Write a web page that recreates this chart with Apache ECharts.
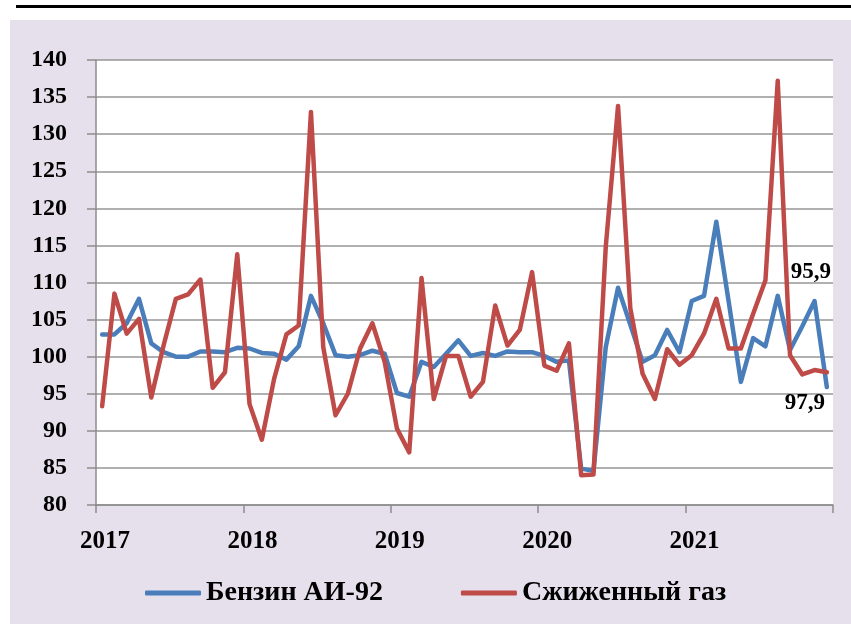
<!DOCTYPE html>
<html>
<head>
<meta charset="utf-8">
<script src="https://cdn.jsdelivr.net/npm/echarts@6/dist/echarts.min.js"></script>
<style>
  html, body { margin: 0; padding: 0; background: #fff; }
  .topline { position: absolute; left: 16px; top: 5px; width: 835px; height: 3px; background: #000; }
  #chart { position: absolute; left: 10px; top: 20px; width: 841px; height: 604px; background: #e6e0ec; }
</style>
</head>
<body>
<div class="topline"></div>
<div id="chart"></div>
<script>
// monthly values, Jan 2017 .. Dec 2021
const years = ['2017', '2018', '2019', '2020', '2021']

const benzin = [
  103.0, 103.0, 104.5, 107.8, 101.8, 100.6, 100.0, 100.0, 100.7, 100.7, 100.6, 101.2,
  101.1, 100.5, 100.4, 99.6, 101.4, 108.2, 104.5, 100.2, 100.0, 100.2, 100.8, 100.4,
  95.1, 94.6, 99.3, 98.6, 100.4, 102.2, 100.1, 100.5, 100.1, 100.7, 100.6, 100.6,
  100.1, 99.3, 99.5, 84.9, 84.6, 101.3, 109.3, 104.3, 99.3, 100.2, 103.6, 100.6,
  107.5, 108.2, 118.2, 107.5, 96.6, 102.5, 101.4, 108.2, 100.9, 104.1, 107.5, 95.9
]

const gaz = [
  93.3, 108.5, 103.1, 105.1, 94.5, 101.5, 107.8, 108.4, 110.4, 95.8, 97.9, 113.8,
  93.6, 88.8, 97.0, 103.0, 104.2, 133.0, 101.3, 92.1, 95.0, 101.1, 104.5, 99.3,
  90.3, 87.1, 110.6, 94.3, 100.1, 100.1, 94.6, 96.6, 106.9, 101.5, 103.6, 111.4,
  98.8, 98.1, 101.8, 84.0, 84.1, 114.8, 133.8, 106.5, 97.7, 94.3, 101.0, 98.9,
  100.2, 103.1, 107.8, 101.1, 101.1, 105.8, 110.3, 137.2, 100.2, 97.6, 98.2, 97.9
]

const yTicks = { min: 80, max: 140, step: 5 }

const font = 'Liberation Serif'

// month i sits in the middle of its slot on a 0..60 month scale
function toPoints(arr, lastLabel) {
  return arr.map((v, i) => {
    if (i === arr.length - 1) {
      return {
        value: [i + 0.5, v],
        symbol: 'circle',
        symbolSize: 1,
        label: lastLabel
      }
    }
    return [i + 0.5, v]
  })
}

const labelStyle = {
  show: true,
  position: 'inside',
  fontFamily: font,
  fontWeight: 'bold',
  fontSize: 23,
  color: '#000',
  formatter: p => String(p.value[1]).replace('.', ',')
}

const chart = echarts.init(document.getElementById('chart'))

chart.setOption({
  animation: false,
  textStyle: { fontFamily: font },
  grid: {
    left: 86,
    right: 18,
    top: 40,
    bottom: 119,
    show: true,
    backgroundColor: '#fff',
    borderWidth: 0
  },
  legend: {
    left: 130,
    top: 554,
    icon: 'roundRect',
    itemWidth: 56,
    itemHeight: 5,
    itemGap: 78,
    textStyle: { fontFamily: font, fontWeight: 'bold', fontSize: 28, color: '#000' },
    data: ['Бензин АИ-92', 'Сжиженный газ']
  },
  xAxis: {
    type: 'value',
    min: 0,
    max: 60,
    interval: 12,
    axisLine: { lineStyle: { color: '#8c8c8c', width: 1.5 } },
    axisTick: { show: true, length: 8, lineStyle: { color: '#8c8c8c', width: 1.5 } },
    splitLine: { show: false },
    axisLabel: {
      margin: 24,
      padding: [0, 0, 0, 18],
      fontFamily: font,
      fontWeight: 'bold',
      fontSize: 25,
      color: '#000',
      formatter: v => years[v / 12] || ''
    }
  },
  yAxis: {
    type: 'value',
    min: yTicks.min,
    max: yTicks.max,
    interval: yTicks.step,
    axisLine: { show: true, lineStyle: { color: '#8c8c8c', width: 1.5 } },
    axisTick: { show: true, length: 9, lineStyle: { color: '#8c8c8c', width: 1.5 } },
    splitLine: { lineStyle: { color: '#969696', width: 1.5 } },
    axisLabel: {
      margin: 29,
      fontFamily: font,
      fontWeight: 'bold',
      fontSize: 24,
      color: '#000'
    }
  },
  series: [
    {
      name: 'Бензин АИ-92',
      type: 'line',
      symbol: 'none',
      showSymbol: true,
      color: '#4a7ebb',
      lineStyle: { width: 4.5, color: '#4a7ebb', cap: 'round', join: 'round' },
      data: toPoints(benzin, Object.assign({}, labelStyle, { offset: [-16, -115] }))
    },
    {
      name: 'Сжиженный газ',
      type: 'line',
      symbol: 'none',
      showSymbol: true,
      color: '#be4b48',
      lineStyle: { width: 4.5, color: '#be4b48', cap: 'round', join: 'round' },
      data: toPoints(gaz, Object.assign({}, labelStyle, { offset: [-22, 31] }))
    }
  ]
})
</script>
</body>
</html>
